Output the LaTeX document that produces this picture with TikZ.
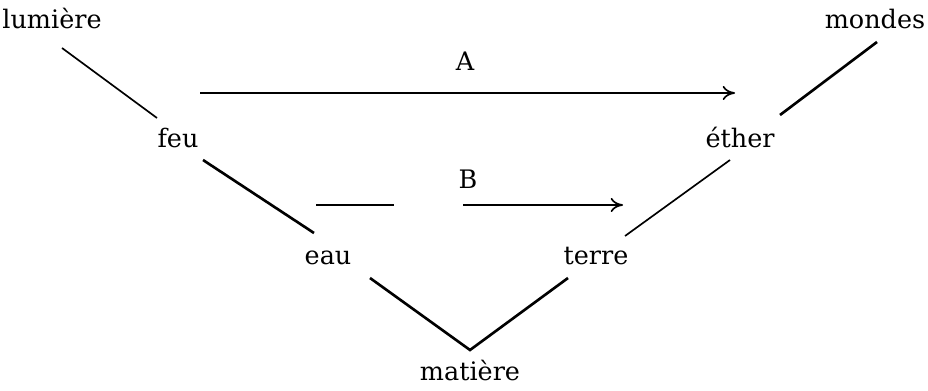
\documentclass[tikz,border=0pt]{standalone}
\usepackage{fontspec}
\setmainfont{DejaVu Serif}
\usetikzlibrary{arrows.meta}

\tikzset{
    word/.style={inner sep=0pt, anchor=base, font=\fontsize{14.5}{17}\selectfont},
    thinlink/.style={black, line width=0.95pt},
    thicklink/.style={black, line width=1.5pt},
    flow/.style={black, line width=0.95pt, -{To[length=7pt,width=8pt]}}
}

\begin{document}
\begin{tikzpicture}[x=0.02cm, y=-0.02cm]
        \useasboundingbox (0,0) rectangle (928,391);
        % words
        \node[word] (lumiere) at (52,29) {lumière};
        \node[word] (mondes) at (875,29) {mondes};
        \node[word] (labA) at (465,71) {A};
        \node[word] (feu) at (178,148) {feu};
        \node[word] (ether) at (740,148) {éther};
        \node[word] (labB) at (468,189) {B};
        \node[word] (eau) at (328,264) {eau};
        \node[word] (terre) at (596,264) {terre};
        \node[word] (matiere) at (470,380) {matière};
        % left branch
        \draw[thinlink] ([shift={(10,19)}]lumiere.base) -- ([shift={(-21,-30)}]feu.base);
        \draw[thicklink] ([shift={(25,12)}]feu.base) -- ([shift={(-14,-31)}]eau.base);
        % right branch
        \draw[thicklink] ([shift={(2,13)}]mondes.base) -- ([shift={(40,-33)}]ether.base);
        \draw[thinlink] ([shift={(-10,12)}]ether.base) -- ([shift={(29,-28)}]terre.base);
        % bottom
        \draw[thicklink] ([shift={(42,14)}]eau.base) -- ([shift={(0,-30)}]matiere.base) -- ([shift={(-28,14)}]terre.base);
        % arrows
        \draw[flow] ([shift={(22,-55)}]feu.base) -- ([shift={(-5,-55)}]ether.base);
        \draw[thinlink] ([shift={(-12,-59)}]eau.base) -- ([shift={(66,-59)}]eau.base);
        \draw[flow] ([shift={(-133,-59)}]terre.base) -- ([shift={(27,-59)}]terre.base);
    \end{tikzpicture}
\end{document}
